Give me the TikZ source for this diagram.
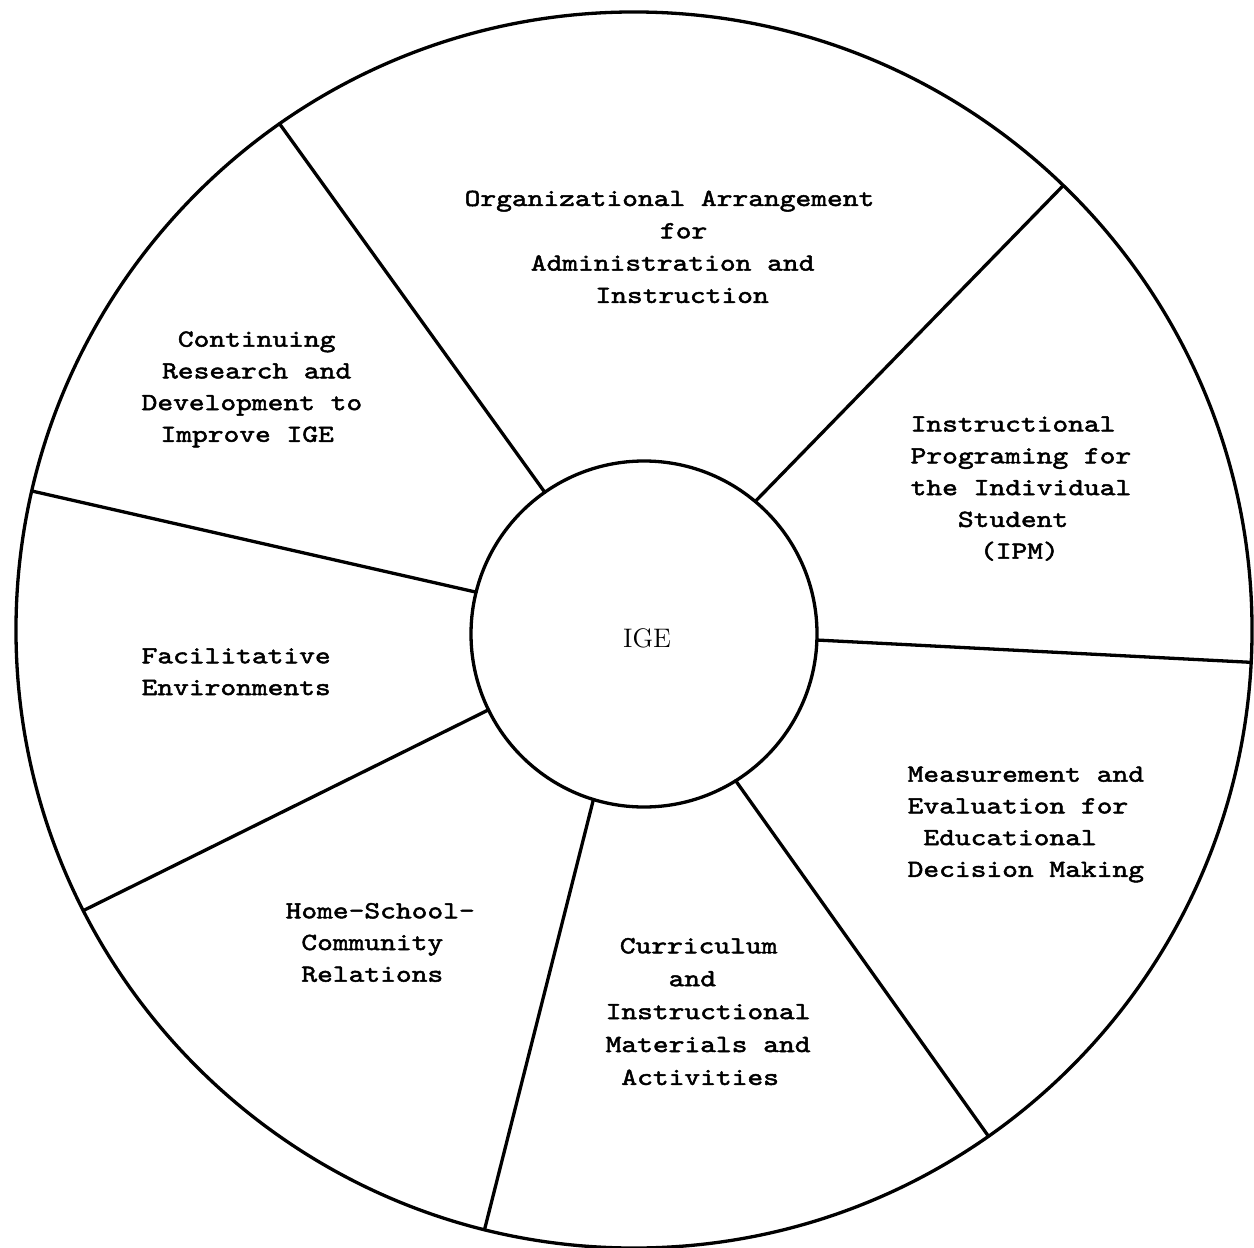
\documentclass[tikz,border=0pt]{standalone}
\usepackage{fontspec}
% typewriter face for the sector texts
\newfontfamily\twfont{lmmono10-regular}[Extension=.otf, FakeStretch=1.22, FakeBold=2]
% one typed line, indented by a number of character cells
\newcommand\tline[2]{\hbox{\hspace*{#1\fontcharwd\font`M}#2}}
\begin{document}
\begin{tikzpicture}[x=0.5bp, y=-0.5bp, line width=1.65bp,
  ring/.style={draw, circle, inner sep=0pt, outer sep=0pt},
  spoke/.style={line cap=round},
  sectortext/.style={anchor=base west, inner sep=0pt,
    font={\twfont\fontsize{12.3bp}{16bp}\selectfont}}]
\useasboundingbox (0,0) rectangle (1254,1248);
\fill[white] (0,0) rectangle (1254,1248);

% outer wheel and hub
\node[ring, minimum size=618bp] (rim) at (634,630) {};
\node[ring, minimum size=173bp] (hub) at (644,634) {};
\node[font={\fontsize{13.4bp}{15bp}\selectfont}, anchor=base, inner sep=0pt] (ige) at (647,647) {IGE};

% spokes between hub and rim
\draw[spoke] (hub.125.4) -- (rim.125.9);
\draw[spoke] (hub.50)    -- (rim.46.6);
\draw[spoke] (hub.-2.5)  -- (rim.-3.0);
\draw[spoke] (hub.-58.6) -- (rim.-55.7);
\draw[spoke] (hub.-107.3) -- (rim.-104.2);
\draw[spoke] (hub.206.3) -- (rim.207.6);
\draw[spoke] (hub.166.9) -- (rim.167.3);

% sector texts
\node[sectortext] (org) at (463,206) {\vtop{\baselineskip=16.15bp
  \tline{0}{Organizational Arrangement}
  \tline{12.4}{for}
  \tline{4.2}{Administration and}
  \tline{8.3}{Instruction}}};

\node[sectortext] (ipm) at (909,431.5) {\vtop{\baselineskip=15.9bp
  \tline{0}{Instructional}
  \tline{0}{Programing for}
  \tline{0}{the Individual}
  \tline{3}{Student}
  \tline{4.4}{(IPM)}}};

\node[sectortext] (meas) at (906,781.7) {\vtop{\baselineskip=15.85bp
  \tline{0}{Measurement and}
  \tline{0}{Evaluation for}
  \tline{1}{Educational}
  \tline{0}{Decision Making}}};

\node[sectortext] (curr) at (604,953.3) {\vtop{\baselineskip=16.45bp
  \tline{0.9}{Curriculum}
  \tline{4}{and}
  \tline{0}{Instructional}
  \tline{0}{Materials and}
  \tline{1}{Activities}}};

\node[sectortext] (home) at (284,918.3) {\vtop{\baselineskip=15.85bp
  \tline{0}{Home-School-}
  \tline{1}{Community}
  \tline{1}{Relations}}};

\node[sectortext] (fac) at (140,663.3) {\vtop{\baselineskip=15.85bp
  \tline{0}{Facilitative}
  \tline{0}{Environments}}};

\node[sectortext] (cont) at (140,346.7) {\vtop{\baselineskip=15.85bp
  \tline{2.3}{Continuing}
  \tline{1.3}{Research and}
  \tline{0}{Development to}
  \tline{1.2}{Improve IGE}}};
\end{tikzpicture}
\end{document}
